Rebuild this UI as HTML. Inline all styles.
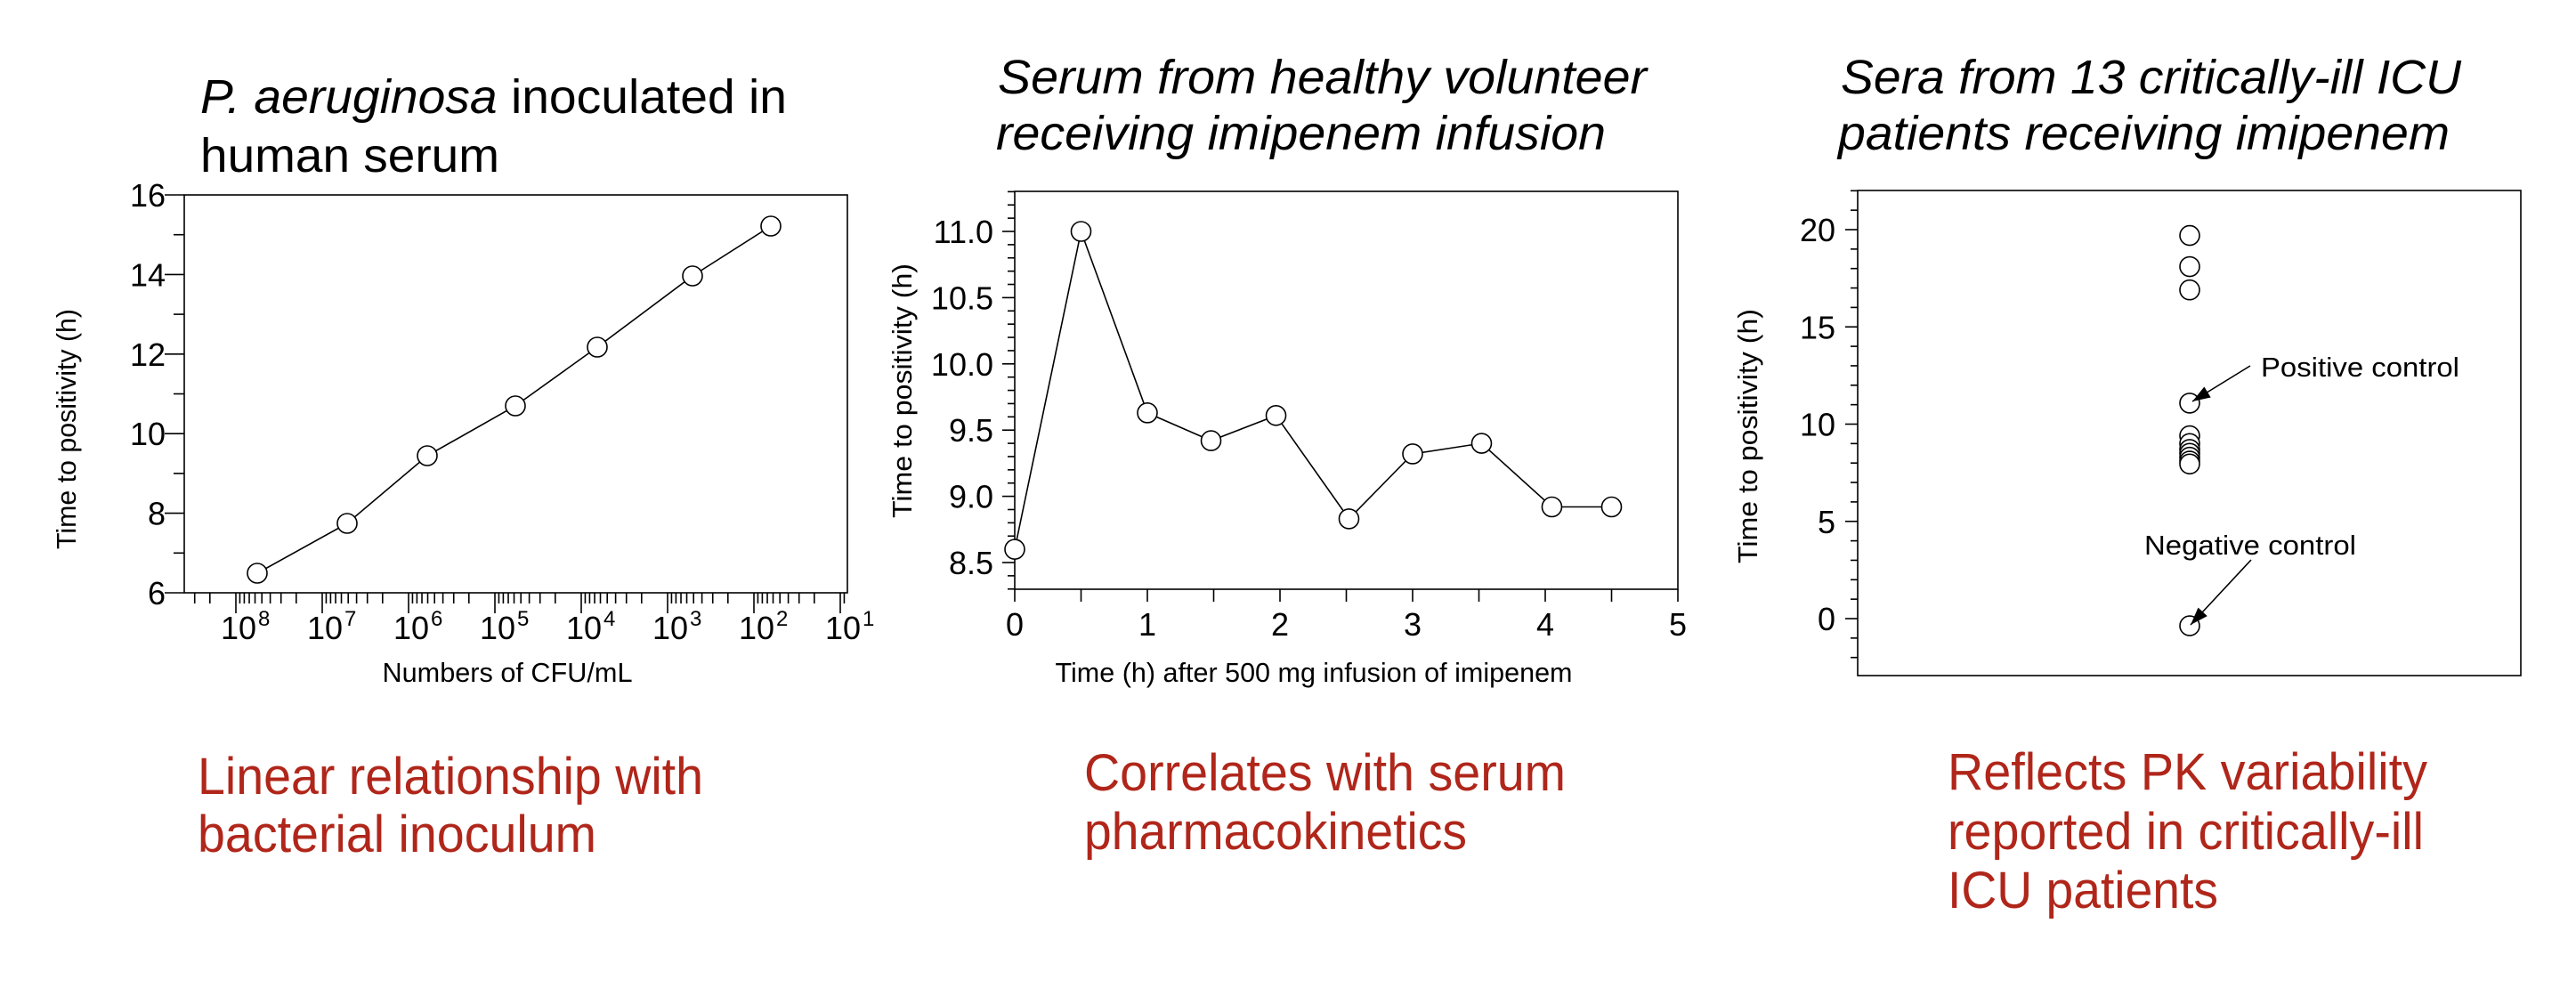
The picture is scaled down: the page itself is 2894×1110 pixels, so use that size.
<!DOCTYPE html>
<html><head><meta charset="utf-8"><style>
html,body{margin:0;padding:0;background:#fff}
svg{display:block}
text{font-family:"Liberation Sans",Arial,sans-serif;fill:#000}
.red{fill:#B0261A}
</style></head><body>
<svg id="s" width="2894" height="1110" viewBox="0 0 2894 1110" xmlns="http://www.w3.org/2000/svg">
<!-- Titles -->
<text x="225" y="127" font-size="54" textLength="659" lengthAdjust="spacingAndGlyphs"><tspan font-style="italic">P. aeruginosa</tspan> inoculated in</text>
<text x="225" y="193" font-size="54" textLength="336" lengthAdjust="spacingAndGlyphs">human serum</text>
<text x="1121" y="105" font-size="54" font-style="italic" textLength="729" lengthAdjust="spacingAndGlyphs">Serum from healthy volunteer</text>
<text x="1119" y="168" font-size="54" font-style="italic" textLength="685" lengthAdjust="spacingAndGlyphs">receiving imipenem infusion</text>
<text x="2068" y="105" font-size="54" font-style="italic" textLength="697" lengthAdjust="spacingAndGlyphs">Sera from 13 critically-ill ICU</text>
<text x="2065" y="168" font-size="54" font-style="italic" textLength="687" lengthAdjust="spacingAndGlyphs">patients receiving imipenem</text>
<!-- red text -->
<g font-size="58">
<text class="red" x="222" y="892" textLength="568" lengthAdjust="spacingAndGlyphs">Linear relationship with</text>
<text class="red" x="222" y="957" textLength="448" lengthAdjust="spacingAndGlyphs">bacterial inoculum</text>
<text class="red" x="1218" y="888" textLength="541" lengthAdjust="spacingAndGlyphs">Correlates with serum</text>
<text class="red" x="1218" y="954" textLength="430" lengthAdjust="spacingAndGlyphs">pharmacokinetics</text>
<text class="red" x="2188" y="887" textLength="539" lengthAdjust="spacingAndGlyphs">Reflects PK variability</text>
<text class="red" x="2188" y="954" textLength="535" lengthAdjust="spacingAndGlyphs">reported in critically-ill</text>
<text class="red" x="2188" y="1020" textLength="304" lengthAdjust="spacingAndGlyphs">ICU patients</text>
</g>
<!-- axis labels -->
<text transform="translate(85,482) rotate(-90)" font-size="31" text-anchor="middle" textLength="270" lengthAdjust="spacingAndGlyphs">Time to positivity (h)</text>
<text x="570" y="766" font-size="31" text-anchor="middle" textLength="281" lengthAdjust="spacingAndGlyphs">Numbers of CFU/mL</text>
<text transform="translate(1024,439) rotate(-90)" font-size="31" text-anchor="middle" textLength="286" lengthAdjust="spacingAndGlyphs">Time to positivity (h)</text>
<text x="1476" y="766" font-size="31" text-anchor="middle" textLength="581" lengthAdjust="spacingAndGlyphs">Time (h) after 500 mg infusion of imipenem</text>
<text transform="translate(1974,490) rotate(-90)" font-size="31" text-anchor="middle" textLength="286" lengthAdjust="spacingAndGlyphs">Time to positivity (h)</text>
<!-- annotations -->
<text x="2540" y="423" font-size="31" textLength="223" lengthAdjust="spacingAndGlyphs">Positive control</text>
<text x="2409" y="623" font-size="31" textLength="238" lengthAdjust="spacingAndGlyphs">Negative control</text>
<g id="g" stroke="#000" stroke-width="1.6" fill="none"></g>
</svg>
<script>
var g=document.getElementById('g'),s=document.getElementById('s'),NS='http://www.w3.org/2000/svg';
function el(n,a,p){var e=document.createElementNS(NS,n);for(var k in a)e.setAttribute(k,a[k]);(p||g).appendChild(e);return e;}
function ln(x1,y1,x2,y2){el('line',{x1:x1,y1:y1,x2:x2,y2:y2});}
function txt(x,y,t,anc,fs){var e=el('text',{x:x,y:y,'font-size':fs||36,'text-anchor':anc||'end'},s);e.textContent=t;return e;}
function circ(x,y){el('circle',{cx:x,cy:y,r:11,fill:'#fff'});}
// Panel 1
var L=207,R=952,T=219,B=666;
el('rect',{x:L,y:T,width:R-L,height:B-T});
for(var v=6;v<=16;v++){var y=666-(v-6)*44.7;ln(L,y,L-(v%2==0?22:12),y);if(v%2==0)txt(186,y+13,String(v));}
function xl(lv){return 265+(8-lv)*97;}
for(var k=9;k>=0;k--){var x=xl(k);if(x>=L&&x<=R){ln(x,B,x,B+23);}
 for(var m=2;m<=9;m++){var xx=xl(k+Math.log10(m));if(xx>=L&&xx<=R)ln(xx,B,xx,B+12);}}
for(var k=8;k>=1;k--){var x=xl(k);var t=el('text',{x:x+3,y:718,'font-size':36,'text-anchor':'middle'},s);t.textContent='10';
 var sp=el('text',{x:x+25,y:703,'font-size':24,'text-anchor':'start'},s);sp.textContent=String(k);}
var p1=[[289,644],[390,588],[480,512],[579,456],[671,390],[778,310],[866,254]];
el('polyline',{points:p1.map(function(p){return p.join(',')}).join(' ')});
p1.forEach(function(p){circ(p[0],p[1]);});
// Panel 2
L=1140;R=1885;T=215;B=662;
el('rect',{x:L,y:T,width:R-L,height:B-T});
function y2(v){return 260+(11-v)*148.8;}
for(var i=83;i<=113;i++){var v=i/10,y=y2(v);var maj=(i%5==0);ln(L,y,L-(maj?14:8),y);if(maj&&i>=85&&i<=110)txt(1116,y+13,v.toFixed(1));}
function x2(t){return 1140+149*t;}
for(var i=0;i<=10;i++){var x=x2(i/2);ln(x,B,x,B+14);if(i%2==0)txt(x,714,String(i/2),'middle');}
var d2=[[0,8.6],[0.5,11.0],[1,9.63],[1.48,9.42],[1.97,9.61],[2.52,8.83],[3,9.32],[3.52,9.40],[4.05,8.92],[4.5,8.92]];
el('polyline',{points:d2.map(function(p){return x2(p[0])+','+y2(p[1])}).join(' ')});
d2.forEach(function(p){circ(x2(p[0]),y2(p[1]));});
// Panel 3
L=2087;R=2832;T=214;B=759;
el('rect',{x:L,y:T,width:R-L,height:B-T});
function y3(v){return 695-21.85*v;}
for(var v=-2;v<=22;v++){var y=y3(v);var maj=(v%5==0);ln(L,y,L-(maj?14:8),y);if(maj&&v>=0&&v<=20)txt(2062,y+13,String(v));}
[19.7,18.1,16.9,11.08,9.4,9.0,8.7,8.5,8.3,8.1,7.95,-0.37].forEach(function(v){circ(2460,y3(v));});
function arrow(x1,y1,x2,y2){ln(x1,y1,x2,y2);var a=Math.atan2(y2-y1,x2-x1),l=20,w=7;
 var bx=x2-l*Math.cos(a),by=y2-l*Math.sin(a);
 el('polygon',{points:x2+','+y2+' '+(bx-w*Math.sin(a))+','+(by+w*Math.cos(a))+' '+(bx+w*Math.sin(a))+','+(by-w*Math.cos(a)),fill:'#000',stroke:'none'});}
arrow(2528,411,2463,451);
arrow(2529,629,2461,702);
</script>
</body></html>
